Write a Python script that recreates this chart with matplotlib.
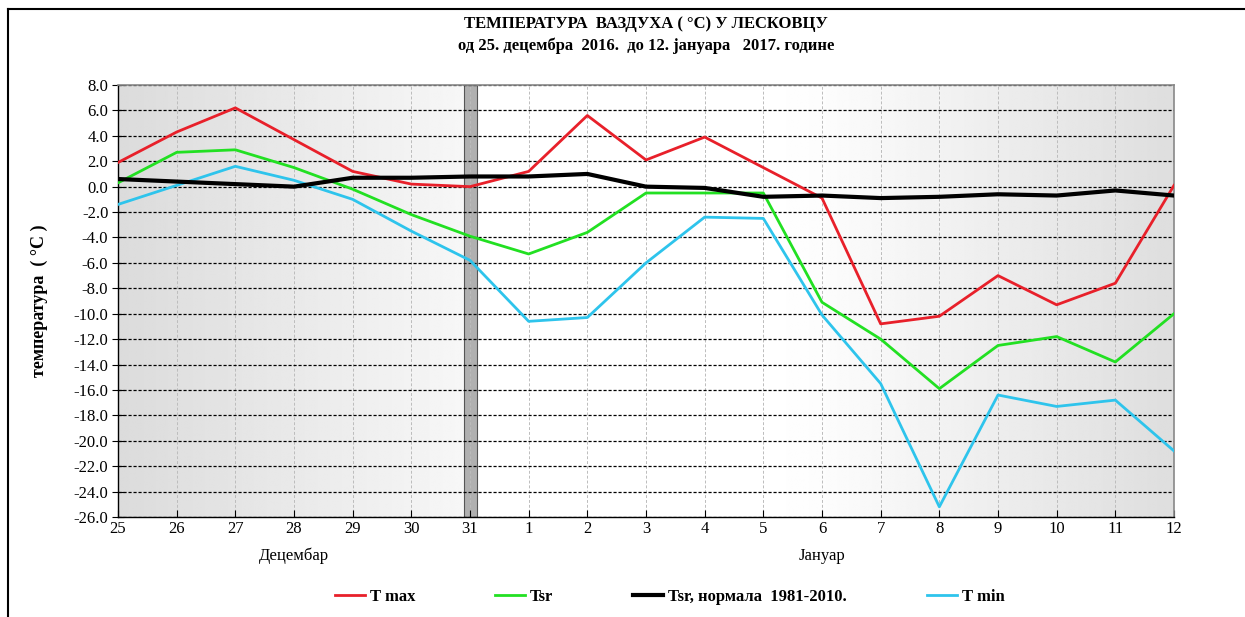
import numpy as np
import matplotlib
matplotlib.use("Agg")
import matplotlib.pyplot as plt
from matplotlib.lines import Line2D

plt.rcParams['font.family'] = ['Liberation Serif', 'DejaVu Serif']

days = ["25", "26", "27", "28", "29", "30", "31", "1", "2", "3", "4", "5",
        "6", "7", "8", "9", "10", "11", "12"]
t_max = [1.9, 4.3, 6.2, 3.7, 1.2, 0.2, 0.0, 1.2, 5.6, 2.1, 3.9, 1.5,
         -0.9, -10.8, -10.2, -7.0, -9.3, -7.6, 0.1]
t_sr = [0.3, 2.7, 2.9, 1.5, -0.2, -2.2, -3.9, -5.3, -3.6, -0.5, -0.5, -0.5,
        -9.1, -12.0, -15.9, -12.5, -11.8, -13.8, -10.0]
t_norm = [0.6, 0.4, 0.2, 0.0, 0.7, 0.7, 0.8, 0.8, 1.0, 0.0, -0.1, -0.8,
          -0.7, -0.9, -0.8, -0.6, -0.7, -0.3, -0.7]
t_min = [-1.4, 0.1, 1.6, 0.5, -1.0, -3.5, -5.8, -10.6, -10.3, -6.0, -2.4, -2.5,
         -10.1, -15.5, -25.2, -16.4, -17.3, -16.8, -20.8]
y_ticks = np.arange(-26, 8.1, 2)

fig = plt.figure(figsize=(12.45, 6.17), dpi=100)
ax = fig.add_axes([118/1245, 100/617, (1174-118)/1245, (517-85)/617])

x = np.arange(len(days))
n = len(days) - 1
ax.set_xlim(0, n)
ax.set_ylim(-26, 8)

# background gradient
xs = np.linspace(0, n, 600)
g = np.interp(xs, [0, 6, 6.01, 11, 12, 18], [0.86, 0.97, 1.0, 1.0, 0.99, 0.87])
img = np.tile(g, (2, 1))
ax.imshow(img, extent=[0, n, -26, 8], aspect='auto', cmap='gray', vmin=0, vmax=1,
          zorder=0, interpolation='bilinear')

# year separator band
ax.axvspan(5.9, 6.12, color='#b0b0b0', zorder=1, ec='#555555', lw=0.8)

# grids
for yv in y_ticks:
    ax.axhline(yv, color='black', ls=(0, (2.5, 1.5)), lw=0.9, zorder=2)
for xv in x:
    ax.axvline(xv, color='#bcbcbc', ls=(0, (3, 2)), lw=0.7, zorder=1.5)

ax.plot(x, t_max, color='#e8202a', lw=2, zorder=4)
ax.plot(x, t_sr, color='#22e022', lw=2, zorder=4)
ax.plot(x, t_norm, color='black', lw=3, zorder=5)
ax.plot(x, t_min, color='#2ec4ec', lw=2, zorder=4)

ax.set_xticks(x)
ax.set_xticklabels(days, fontsize=12)
ax.set_yticks(y_ticks)
ax.set_yticklabels([f"{v:.1f}" for v in y_ticks], fontsize=12)
ax.tick_params(axis='x', direction='in', length=5, pad=3)
ax.tick_params(axis='y', direction='inout', length=8, pad=3)
for s in ['top', 'right']:
    ax.spines[s].set_color('#888888')
    ax.spines[s].set_linewidth(1.2)
for s in ['left', 'bottom']:
    ax.spines[s].set_color('black')
    ax.spines[s].set_linewidth(1.0)

ax.set_ylabel("температура  ( °C )", fontsize=13, fontweight='bold', labelpad=18)

fig.text(3/18 * (1174-118)/1245 + 118/1245, 1 - 556/617, "Децембар", ha='center', va='center', fontsize=12)
fig.text(12/18 * (1174-118)/1245 + 118/1245, 1 - 556/617, "Јануар", ha='center', va='center', fontsize=12)

fig.text(0.519, 1 - 24/617, "ТЕМПЕРАТУРА  ВАЗДУХА ( °C) У ЛЕСКОВЦУ", ha='center', va='center',
         fontsize=12, fontweight='bold')
fig.text(0.519, 1 - 46/617, "од 25. децембра  2016.  до 12. јануара   2017. године", ha='center',
         va='center', fontsize=12, fontweight='bold')

handles = [Line2D([], [], color='#e8202a', lw=2),
           Line2D([], [], color='#22e022', lw=2),
           Line2D([], [], color='black', lw=3),
           Line2D([], [], color='#2ec4ec', lw=2)]
labels = ["T max", "Tsr", "Tsr, нормала  1981-2010.", "T min"]
leg = fig.legend(handles, labels, loc='center', bbox_to_anchor=(0.538, 1 - 597/617), ncol=4,
                 frameon=False, handlelength=1.8, handletextpad=0.3,
                 columnspacing=4.8, prop={'weight': 'bold', 'size': 12})

# figure border (left and top)
fig.add_artist(Line2D([8/1245, 8/1245], [0, 1 - 9/617], color='black', lw=1.5,
                      transform=fig.transFigure))
fig.add_artist(Line2D([8/1245, 1], [1 - 9/617, 1 - 9/617], color='black', lw=1.5,
                      transform=fig.transFigure))

fig.savefig("out.png", dpi=100)
